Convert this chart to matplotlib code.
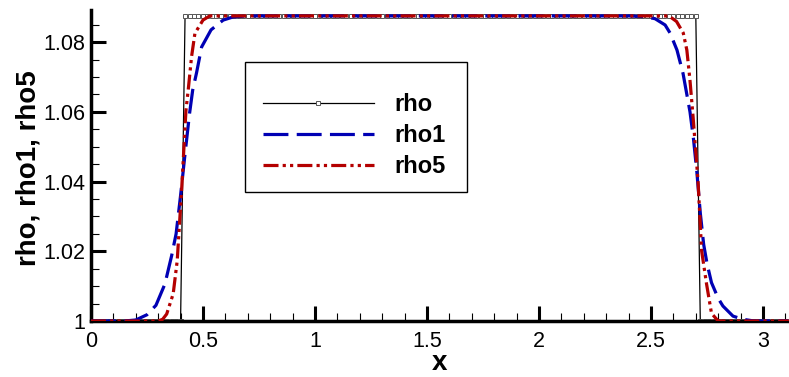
"""Density profiles rho / rho1 / rho5 (Tecplot-style line plot)."""
import numpy as np
import matplotlib
matplotlib.use("Agg")
import matplotlib.pyplot as plt
from matplotlib.patches import Rectangle
from matplotlib.ticker import MultipleLocator, FormatStrFormatter

plt.rcParams["font.family"] = ["Liberation Sans", "DejaVu Sans"]

# exact solution on the grid (step profile)
rho_x = np.linspace(0.0, 3.1, 156)
rho = [1.0] * 21 + [1.0875] * 115 + [1.0] * 20

# first-order result
rho1_x = [0.0, 0.15, 0.20, 0.25, 0.29, 0.33, 0.36, 0.38, 0.40, 0.42, 0.44,
          0.454, 0.471, 0.494, 0.536, 0.59, 0.634, 0.70,
          2.40, 2.47, 2.518, 2.563, 2.585, 2.616, 2.643, 2.674, 2.69, 2.705,
          2.72, 2.735, 2.75, 2.77, 2.80, 2.821, 2.866, 2.91, 2.96, 3.12]
rho1 = [1.0, 1.0, 1.0003, 1.0018, 1.0045, 1.0106, 1.0187, 1.025, 1.036, 1.048, 1.0595,
        1.0662, 1.0711, 1.0786, 1.0835, 1.0863, 1.0872, 1.0875,
        1.0875, 1.0873, 1.0867, 1.0849, 1.0826, 1.0777, 1.0710, 1.060, 1.052, 1.0425,
        1.031, 1.022, 1.0165, 1.011, 1.0065, 1.0043, 1.0014, 1.0005, 1.0, 1.0]

# fifth-order result
rho5_x = [0.0, 0.30, 0.32, 0.338, 0.367, 0.385, 0.405, 0.424, 0.434, 0.449,
          0.464, 0.50, 0.53, 2.58, 2.614, 2.644, 2.66, 2.674, 2.688, 2.71,
          2.726, 2.748, 2.77, 2.80, 3.12]
rho5 = [1.0, 1.0, 1.0005, 1.002, 1.0078, 1.0173, 1.038, 1.0604, 1.0662, 1.0758,
        1.0825, 1.0863, 1.0875, 1.0875, 1.0859, 1.0826, 1.0777, 1.069, 1.0584, 1.04,
        1.0201, 1.0106, 1.0022, 1.0, 1.0]

labels = ["rho", "rho1", "rho5"]

fig = plt.figure(figsize=(7.89, 3.77), dpi=100)
ax = fig.add_axes([0.1153, 0.1485, 0.8847, 0.825])

ax.plot(rho_x, rho, color="black", lw=0.9, marker="s", ms=3.2,
        mfc="white", mec="#555555", mew=0.7, label=labels[0], zorder=2)
ax.plot(rho1_x, rho1, color="#0000b4", lw=2.3, dashes=(7.8, 2.6),
        label=labels[1], zorder=3)
ax.plot(rho5_x, rho5, color="#b40000", lw=2.3,
        dashes=(4.7, 1.3, 1.0, 1.3, 1.0, 1.3), label=labels[2], zorder=4)

ax.set_xlim(0, 3.116)
ax.set_ylim(1.0, 1.0892)

for side in ("top", "right"):
    ax.spines[side].set_visible(False)
for side in ("left", "bottom"):
    ax.spines[side].set_linewidth(2.5)

ax.xaxis.set_major_locator(MultipleLocator(0.5))
ax.xaxis.set_minor_locator(MultipleLocator(0.1))
ax.yaxis.set_major_locator(MultipleLocator(0.02))
ax.yaxis.set_minor_locator(MultipleLocator(0.005))
ax.xaxis.set_major_formatter(FormatStrFormatter("%g"))
ax.yaxis.set_major_formatter(FormatStrFormatter("%g"))

ax.tick_params(which="major", direction="in", length=11, width=2.2,
               labelsize=15.5, pad=7)
ax.tick_params(which="minor", direction="in", length=5.8, width=0.8)
ax.tick_params(axis="y", which="major", pad=4)

ax.set_xlabel("x", fontsize=20, fontweight="bold")
ax.set_ylabel("rho, rho1, rho5", fontsize=20, fontweight="bold")
ax.xaxis.set_label_coords(0.5, -0.158)
ax.xaxis.label.set_va("baseline")
ax.yaxis.set_label_coords(-0.071, 0.49)

# legend frame drawn separately so it can be larger than its entries
ax.add_patch(Rectangle((0.2206, 0.4148), 0.3181, 0.418, transform=ax.transAxes,
                       fill=False, ec="black", lw=1.0, zorder=5))
leg = ax.legend(loc="upper left", bbox_to_anchor=(0.2464, 0.733), frameon=False,
                borderpad=0, borderaxespad=0, handlelength=4.7,
                handletextpad=0.85, labelspacing=0.34,
                prop={"size": 17, "weight": "bold"})

fig.savefig("out.png", dpi=100, facecolor="white")
